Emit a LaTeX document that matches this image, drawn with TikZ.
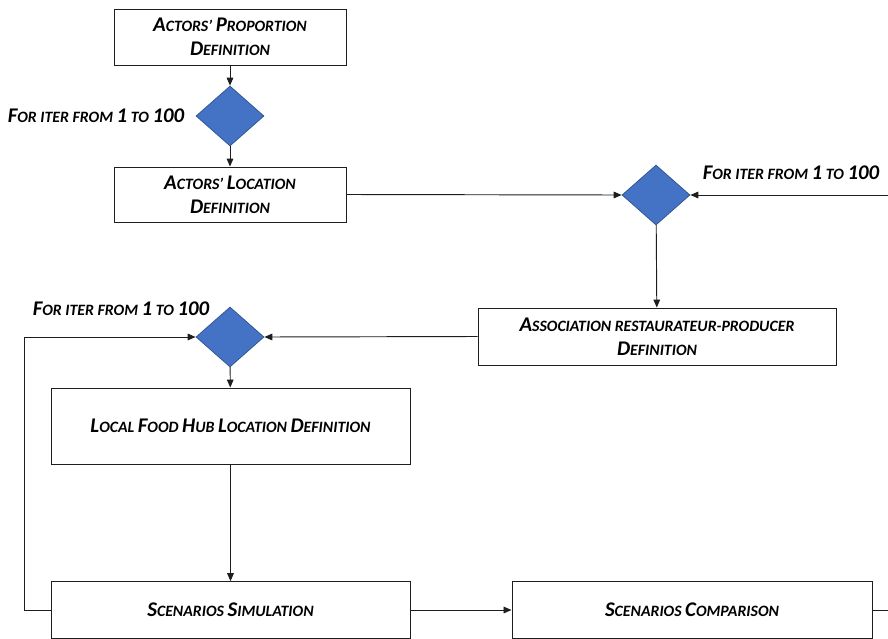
\documentclass[tikz,border=0pt]{standalone}
\usepackage{fontspec}
\setmainfont{Carlito}
\usetikzlibrary{arrows.meta,shapes.geometric}
\definecolor{diamblue}{HTML}{4472C4}
\definecolor{diamedge}{HTML}{2F528F}
\definecolor{boxline}{HTML}{1E1E1E}
\newcommand{\capl}[1]{{\fontsize{17.8}{20.4}\selectfont #1}}

\begin{document}
\begin{tikzpicture}[x=0.03cm,y=-0.03cm,
  stepbox/.style={draw=boxline,line width=0.8pt,fill=white,align=center,inner sep=2pt,
    font=\fontsize{13.5}{20.4}\selectfont\bfseries\itshape},
  loopdiam/.style={diamond,draw=diamedge,fill=diamblue,line width=0.6pt,inner sep=0pt,
    minimum width=2.04cm,minimum height=1.8cm},
  iterlabel/.style={inner sep=0pt,font=\fontsize{13.5}{16}\selectfont\bfseries\itshape},
  flow/.style={-{Triangle[length=2.4mm,width=2mm]},line width=0.8pt,boxline}]
\clip (0,0) rectangle (888,638);
\fill[white] (0,0) rectangle (888,638);

% first loop: actors
\node[stepbox,minimum width=6.96cm,minimum height=1.68cm] (proportion) at (230,37)
  {\capl{A}CTORS’ \capl{P}ROPORTION\\\capl{D}EFINITION};
\node[loopdiam] (iterA) at (230,116) {};
\node[iterlabel] (labelA) at (96,116) {\capl{F}OR ITER FROM \capl{1} TO \capl{100}};
\node[stepbox,minimum width=6.96cm,minimum height=1.65cm] (location) at (230,194.5)
  {\capl{A}CTORS’ \capl{L}OCATION\\\capl{D}EFINITION};

% second loop: association
\node[loopdiam] (iterB) at (656,195) {};
\node[iterlabel] (labelB) at (791,173) {\capl{F}OR ITER FROM \capl{1} TO \capl{100}};
\node[stepbox,minimum width=10.74cm,minimum height=1.71cm] (association) at (657,336.5)
  {\capl{A}SSOCIATION RESTAURATEUR-PRODUCER\\\capl{D}EFINITION};

% third loop: food hub
\node[loopdiam] (iterC) at (230,337) {};
\node[iterlabel] (labelC) at (121,309) {\capl{F}OR ITER FROM \capl{1} TO \capl{100}};
\node[stepbox,minimum width=10.77cm,minimum height=2.28cm] (hub) at (230.5,426)
  {\capl{L}OCAL \capl{F}OOD \capl{H}UB \capl{L}OCATION \capl{D}EFINITION};
\node[stepbox,minimum width=10.77cm,minimum height=1.7cm] (simulation) at (230.5,610)
  {\capl{S}CENARIOS \capl{S}IMULATION};
\node[stepbox,minimum width=10.8cm,minimum height=1.7cm] (comparison) at (692,610)
  {\capl{S}CENARIOS \capl{C}OMPARISON};

\draw[flow] (proportion) -- (iterA);
\draw[flow] (iterA) -- (location);
\draw[flow] (location.east) -- (iterB.west);
\draw[flow] (iterB) -- (association);
\draw[flow] (association.west) -- (iterC.east);
\draw[flow] (iterC) -- (hub);
\draw[flow] (hub) -- (simulation);
\draw[flow] (simulation.east) -- (comparison.west);
\draw[flow] (simulation.west) -- ++(-26,0) |- (iterC.west);
\draw[flow] (comparison.east) -- ++(30,0) |- (iterB.east);
\end{tikzpicture}
\end{document}
